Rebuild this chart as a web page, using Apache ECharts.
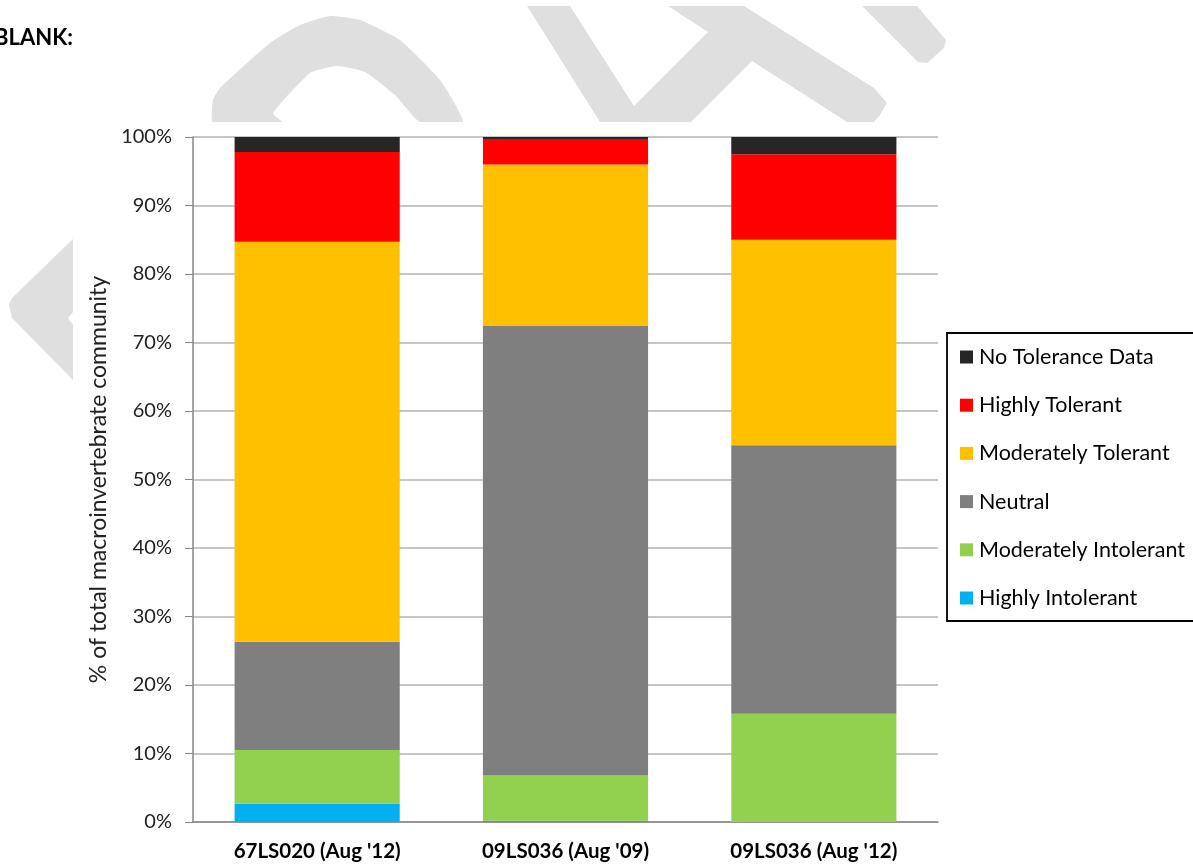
<!DOCTYPE html>
<html>
<head>
<meta charset="utf-8">
<script src="https://cdn.jsdelivr.net/npm/echarts@6/dist/echarts.min.js"></script>
<style>
html,body{margin:0;padding:0;background:#fff;}
#chart{width:1193px;height:867px;}
</style>
</head>
<body>
<div id="chart"></div>
<script>
const categories = ["67LS020 (Aug '12)", "09LS036 (Aug '09)", "09LS036 (Aug '12)"];
const highlyIntolerant = [2.7, 0.2, 0];
const moderatelyIntolerant = [7.8, 6.6, 15.8];
const neutral = [15.8, 65.6, 39.2];
const moderatelyTolerant = [58.4, 23.6, 30.0];
const highlyTolerant = [13.1, 3.7, 12.5];
const noToleranceData = [2.2, 0.3, 2.5];
const yTicks = [0, 10, 20, 30, 40, 50, 60, 70, 80, 90, 100];

const seriesDefs = [
  {name: 'Highly Intolerant', data: highlyIntolerant, color: '#00B0F0'},
  {name: 'Moderately Intolerant', data: moderatelyIntolerant, color: '#92D050'},
  {name: 'Neutral', data: neutral, color: '#7F7F7F'},
  {name: 'Moderately Tolerant', data: moderatelyTolerant, color: '#FFC000'},
  {name: 'Highly Tolerant', data: highlyTolerant, color: '#FF0000'},
  {name: 'No Tolerance Data', data: noToleranceData, color: '#262626'}
];

const FONT = 'Lato';
const wm = '#dfdfdf';
const chart = echarts.init(document.getElementById('chart'), null, {renderer: 'canvas'});
chart.setOption({
  backgroundColor: '#ffffff',
  animation: false,
  textStyle: {fontFamily: FONT},
  graphic: [
    {type: 'polygon', z: -3, shape: {points: [[213,122],[213,100],[220,88],[270,43],[300,25],[330,16],[360,20],[400,40],[440,80],[463,122],[420,122],[395,95],[365,72],[337,66],[310,73],[273,113],[282,122]], smooth: 0.15}, style: {fill: wm}},
    {type: 'polygon', z: -3, shape: {points: [[527,6],[570,6],[634,106],[708,32],[668,6],[744,6],[874,88],[887,103],[880,115],[874,122],[847,122],[752,61],[691,122],[600,122]]}, style: {fill: wm}},
    {type: 'polygon', z: -3, shape: {points: [[862,6],[917,6],[946,40],[944,48],[927,63],[918,62]]}, style: {fill: wm}},
    {type: 'polygon', z: -3, shape: {points: [[73,239],[12,298],[9,305],[12,318],[73,380],[73,325],[68,318],[73,312]]}, style: {fill: wm}},
    {type: 'rect', z: -2, shape: {x: 73, y: 122, width: 1120, height: 745}, style: {fill: '#ffffff'}},
    {type: 'text', z: 5, left: -6, top: 27, style: {text: 'BLANK:', fontFamily: FONT, fontWeight: 'bold', fontSize: 22, fill: '#000'}}
  ],
  grid: {left: 193, right: 255, top: 137, bottom: 45, containLabel: false},
  legend: {
    orient: 'vertical',
    left: 947, top: 333,
    data: seriesDefs.map(s => s.name).reverse(),
    icon: 'rect',
    itemWidth: 13, itemHeight: 13,
    itemGap: 26.2,
    padding: [13, 40, 12, 13],
    borderColor: '#000', borderWidth: 1.8,
    textStyle: {fontFamily: FONT, fontSize: 21.5, color: '#000', lineHeight: 20, padding: [0, 0, 0, 1]}
  },
  xAxis: {
    type: 'category',
    data: categories,
    axisLine: {lineStyle: {color: '#868686', width: 1.5}},
    axisTick: {show: false},
    axisLabel: {fontFamily: FONT, fontWeight: 'bold', fontSize: 20.5, color: '#000', margin: 19}
  },
  yAxis: {
    type: 'value',
    min: yTicks[0], max: yTicks[yTicks.length - 1], interval: 10,
    name: '% of total macroinvertebrate community',
    nameLocation: 'middle', nameGap: 80,
    nameTextStyle: {fontFamily: FONT, fontSize: 23, color: '#222'},
    axisLine: {show: true, lineStyle: {color: '#868686', width: 1.5}},
    axisTick: {show: true, inside: false, length: 8, lineStyle: {color: '#868686'}},
    axisLabel: {formatter: '{value}%', fontFamily: FONT, fontSize: 20, color: '#222', margin: 21},
    splitLine: {show: true, lineStyle: {color: '#b3b3b3', width: 1.5}}
  },
  series: seriesDefs.map(s => ({
    name: s.name,
    type: 'bar',
    stack: 'total',
    data: s.data,
    barWidth: '66.5%',
    itemStyle: {color: s.color},
    emphasis: {disabled: true}
  }))
});
</script>
</body>
</html>
